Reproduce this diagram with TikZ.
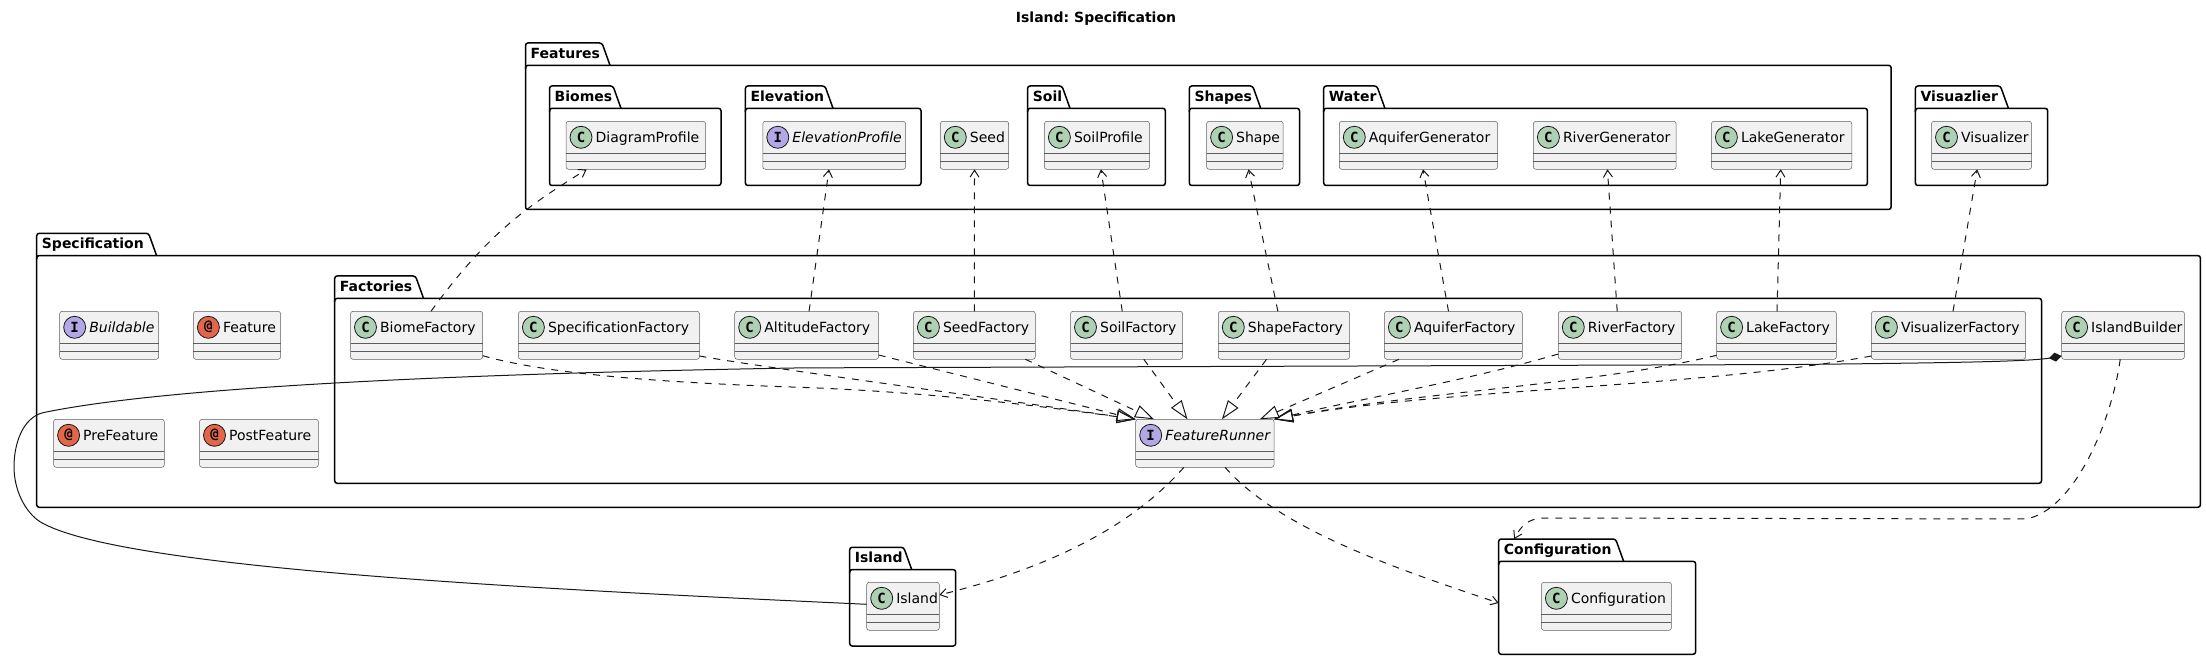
\documentclass[tikz,border=0pt]{standalone}
\usepackage{fontspec}
\setmainfont{DejaVu Sans}
\newfontfamily\spotfont{DejaVu Sans Mono}
\usetikzlibrary{arrows.meta,positioning,calc}
\frenchspacing
\definecolor{classfill}{HTML}{F1F1F1}
\definecolor{umlline}{HTML}{181818}
\definecolor{spotclass}{HTML}{ADD1B2}
\definecolor{spotinterface}{HTML}{B4A7E5}
\definecolor{spotannotation}{HTML}{E3664A}
\tikzset{
	classbox/.style={draw=umlline!70,line width=0.5pt,fill=classfill,rounded corners=2.5pt,inner sep=0pt,outer sep=0pt,minimum height=48pt},
	classrule/.style={draw=umlline!70,line width=0.5pt},
	spotnode/.style={circle,draw=umlline,line width=0.8pt,inner sep=0pt,minimum size=22pt,font=\fontsize{14}{14}\selectfont\spotfont\bfseries},
	classtext/.style={anchor=base west,inner sep=0pt,font=\fontsize{14}{14}\selectfont},
	pkgbody/.style={draw=black,line width=1.5pt,rounded corners=2.5pt,inner sep=0pt,outer sep=0pt},
	pkgline/.style={draw=black,line width=1.5pt},
	pkgtext/.style={anchor=base west,inner sep=0pt,font=\fontsize{14}{14}\selectfont\bfseries},
	depline/.style={draw=umlline,line width=1pt,dash pattern=on 7pt off 7pt,-{Straight Barb[length=7pt,width=9pt,line width=1pt]}},
	realizeline/.style={draw=umlline,line width=1pt,dash pattern=on 7pt off 7pt,-{Triangle[open,length=19pt,width=13pt]}},
	composeline/.style={draw=umlline,line width=1pt,{Diamond[length=13pt,width=9pt]}-},
}
% name, left, right, top, spot colour, spot letter, label
\newcommand{\umlclass}[7]{
	\node[classbox,minimum width={(#3-#2)*1pt}] (#1) at ({(#2+#3)/2},{#4+24}) {};
	\draw[classrule] ([yshift=-8pt]#1.west) -- ([yshift=-8pt]#1.east);
	\draw[classrule] ([yshift=-16pt]#1.west) -- ([yshift=-16pt]#1.east);
	\node[spotnode,fill=#5] (#1-spot) at ([xshift=15pt,yshift=8pt]#1.west) {#6};
	\node[classtext] (#1-label) at ([xshift=29.4pt,yshift=2.6pt]#1.west) {#7};
}
% name, label, left, right, top, bottom, tab right
\newcommand{\umlpackage}[7]{
	\node[pkgbody,minimum width={(#4-#3)*1pt},minimum height={(#6-#5-22.3)*1pt}] (#1) at ({(#3+#4)/2},{(#5+22.3+#6)/2}) {};
	\draw[pkgline,rounded corners=2.5pt] (#7,#5+22.3) -- (#7-8,#5) -- (#3,#5) -- (#3,#5+26);
	\draw[pkgline] (#3,#5+24) -- (#3,#5+22.3) -- (#3+4,#5+22.3);
	\coordinate (#1-tab) at (#3,#5);
	\node[pkgtext] (#1-label) at (#3+5,#5+15.3) {#2};
}
\begin{document}
\begin{tikzpicture}[x=1pt,y=-1pt]
		\useasboundingbox (0,0) rectangle (2206,660);
		\node[pkgtext,anchor=base] (DiagramTitle) at (1096,22.7) {Island: Specification};
		\umlpackage{FeaturesPkg}{Features}{525.5}{1891.1}{43}{209.5}{610}
		\umlpackage{BiomesPkg}{Biomes}{549.5}{721}{86}{185.5}{621}
		\umlpackage{ElevationPkg}{Elevation}{745.4}{921}{86}{185.5}{833}
		\umlpackage{SoilPkg}{Soil}{1027.6}{1165.3}{86}{185.5}{1070}
		\umlpackage{ShapesPkg}{Shapes}{1189.3}{1299.5}{86}{185.5}{1260.7}
		\umlpackage{WaterPkg}{Water}{1323.7}{1867.4}{86}{185.5}{1384.9}
		\umlpackage{VisuazlierPkg}{Visuazlier}{1915.4}{2047.7}{86}{185.5}{2008.4}
		\umlpackage{SpecificationPkg}{Specification}{36.7}{2200.4}{233.3}{507.3}{156.6}
		\umlpackage{FactoriesPkg}{Factories}{334.7}{2041.5}{276}{483.3}{423.5}
		\umlpackage{IslandPkg}{Island}{849.7}{955.7}{547.3}{646}{911.7}
		\umlpackage{ConfigurationPkg}{Configuration}{1498.7}{1695.6}{539}{654.3}{1623.6}
		\umlclass{DiagramProfile}{566}{705.6}{121.3}{spotclass}{C}{DiagramProfile}
		\umlclass{ElevationProfile}{762.8}{905.6}{121.3}{spotinterface}{I}{\textit{ElevationProfile}}
		\umlclass{Seed}{940.3}{1008.7}{121.3}{spotclass}{C}{Seed}
		\umlclass{SoilProfile}{1044.4}{1149.5}{121.3}{spotclass}{C}{SoilProfile}
		\umlclass{Shape}{1206.6}{1283.2}{121.3}{spotclass}{C}{Shape}
		\umlclass{AquiferGenerator}{1339.3}{1497.6}{121.3}{spotclass}{C}{AquiferGenerator}
		\umlclass{RiverGenerator}{1533.4}{1676.1}{121.3}{spotclass}{C}{RiverGenerator}
		\umlclass{LakeGenerator}{1711.4}{1851.8}{121.3}{spotclass}{C}{LakeGenerator}
		\umlclass{Visualizer}{1931.5}{2031.5}{121.3}{spotclass}{C}{Visualizer}
		\umlclass{Buildable}{59.7}{158.7}{311.3}{spotinterface}{I}{\textit{Buildable}}
		\umlclass{Feature}{193.4}{280.6}{311.3}{spotannotation}{@}{Feature}
		\umlclass{PreFeature}{53.6}{164.3}{419.3}{spotannotation}{@}{PreFeature}
		\umlclass{PostFeature}{199.5}{318.4}{419.3}{spotannotation}{@}{PostFeature}
		\umlclass{BiomeFactory}{350.5}{482.7}{311.3}{spotclass}{C}{BiomeFactory}
		\umlclass{SpecificationFactory}{518.4}{699.5}{311.3}{spotclass}{C}{SpecificationFactory}
		\umlclass{AltitudeFactory}{734.7}{878.6}{311.3}{spotclass}{C}{AltitudeFactory}
		\umlclass{SeedFactory}{913.4}{1035.3}{311.3}{spotclass}{C}{SeedFactory}
		\umlclass{SoilFactory}{1070.5}{1182.6}{311.3}{spotclass}{C}{SoilFactory}
		\umlclass{ShapeFactory}{1218.3}{1349.6}{311.3}{spotclass}{C}{ShapeFactory}
		\umlclass{AquiferFactory}{1384.4}{1522.3}{311.3}{spotclass}{C}{AquiferFactory}
		\umlclass{RiverFactory}{1558.3}{1681.7}{311.3}{spotclass}{C}{RiverFactory}
		\umlclass{LakeFactory}{1716.6}{1836.4}{311.3}{spotclass}{C}{LakeFactory}
		\umlclass{VisualizerFactory}{1871.4}{2025.6}{311.3}{spotclass}{C}{VisualizerFactory}
		\umlclass{IslandBuilder}{2061.6}{2184.4}{311.3}{spotclass}{C}{IslandBuilder}
		\umlclass{FeatureRunner}{1135.7}{1274}{419.3}{spotinterface}{I}{\textit{FeatureRunner}}
		\umlclass{Island}{866.7}{939.3}{582.3}{spotclass}{C}{Island}
		\umlclass{Configuration}{1541.4}{1671.4}{582.3}{spotclass}{C}{Configuration}
		\draw[depline] ([xshift=14.4pt]BiomeFactory.north) .. controls (490,230) and (530,205) .. ([xshift=-49.1pt]DiagramProfile.south);
		\draw[depline] ([xshift=2.4pt]AltitudeFactory.north) -- ([xshift=-5.2pt]ElevationProfile.south);
		\draw[depline] (SeedFactory.north) -- (Seed.south);
		\draw[depline] ([xshift=-4.3pt]SoilFactory.north) -- ([xshift=4pt]SoilProfile.south);
		\draw[depline] ([xshift=-6.1pt]ShapeFactory.north) -- ([xshift=3.6pt]Shape.south);
		\draw[depline] ([xshift=-4.85pt]AquiferFactory.north) -- ([xshift=4.55pt]AquiferGenerator.south);
		\draw[depline] ([xshift=-2.8pt]RiverFactory.north) -- ([xshift=2.65pt]RiverGenerator.south);
		\draw[depline] ([xshift=0.5pt]LakeFactory.north) -- ([xshift=-0.9pt]LakeGenerator.south);
		\draw[depline] ([xshift=4.5pt]VisualizerFactory.north) -- ([xshift=-4.3pt]Visualizer.south);
		\draw[realizeline] ([yshift=-20.4pt]BiomeFactory.east) .. controls (540,372) and (640,382) .. (800,387.3) .. controls (930,392) and (1040,406) .. (FeatureRunner.north west);
		\draw[realizeline] ([yshift=-20.7pt]SpecificationFactory.east) .. controls (760,367) and (950,392) .. (FeatureRunner.north west);
		\draw[realizeline] ([yshift=-19.7pt]AltitudeFactory.east) -- (FeatureRunner.north west);
		\draw[realizeline] ([xshift=51pt]SeedFactory.south) -- ([xshift=-50.85pt]FeatureRunner.north);
		\draw[realizeline] ([xshift=17.25pt]SoilFactory.south) -- ([xshift=-17.35pt]FeatureRunner.north);
		\draw[realizeline] ([xshift=-17.45pt]ShapeFactory.south) -- ([xshift=17.05pt]FeatureRunner.north);
		\draw[realizeline] ([xshift=-54.35pt]AquiferFactory.south) -- ([xshift=54.95pt]FeatureRunner.north);
		\draw[realizeline] ([yshift=-18.7pt]RiverFactory.west) .. controls (1469,380) and (1370,397) .. (FeatureRunner.north east);
		\draw[realizeline] ([yshift=-20pt]LakeFactory.west) .. controls (1598,384) and (1420,392) .. (FeatureRunner.north east);
		\draw[realizeline] ([yshift=-20.7pt]VisualizerFactory.west) .. controls (1698,388) and (1450,388) .. (FeatureRunner.north east);
		\draw[composeline] ([yshift=-20.7pt]IslandBuilder.west) .. controls (2027,362) and (1927,363) .. (1798,364.5) -- (800,367.9) .. controls (560,372) and (190,382) .. (43,412.7) .. controls (22,418) and (14,445) .. (14,466.7) .. controls (14,490) and (25,512) .. (40,521.7) .. controls (120,570) and (560,590) .. ([yshift=2pt]Island.west);
		\draw[depline] ([xshift=-20.95pt]FeatureRunner.south) .. controls (1120,540) and (1020,575) .. ([yshift=11.3pt]Island.east);
		\draw[depline] ([xshift=20.15pt]FeatureRunner.south) .. controls (1280,530) and (1400,570) .. ([yshift=4.8pt]ConfigurationPkg.west);
		\draw[depline] ([xshift=-2.8pt]IslandBuilder.south) .. controls (2112,420) and (2075,510) .. (2026,519) -- (1545,518) .. controls (1528,518) and (1521,526) .. ([xshift=15.4pt]ConfigurationPkg-tab);
		\end{tikzpicture}
\end{document}
